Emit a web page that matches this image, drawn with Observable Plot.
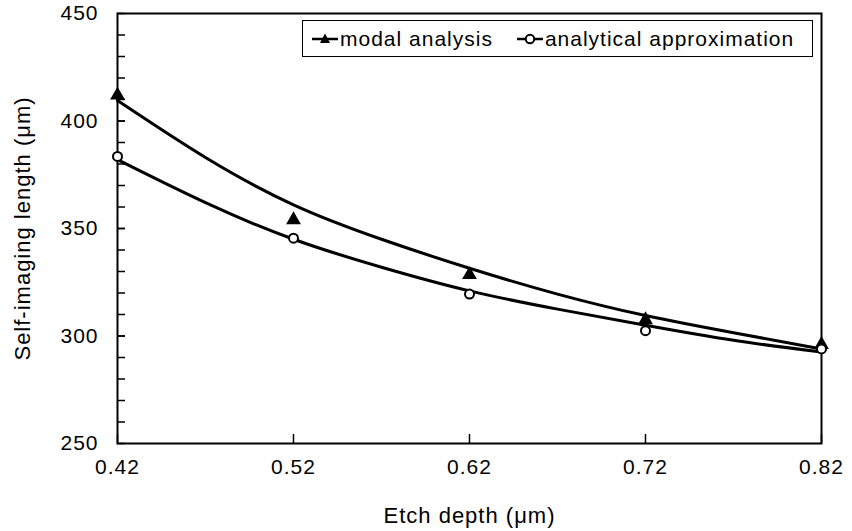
<!DOCTYPE html>
<html>
<head>
<meta charset="utf-8">
<script src="https://cdn.jsdelivr.net/npm/d3@7"></script>
<script src="https://cdn.jsdelivr.net/npm/@observablehq/plot@0.6"></script>
<style>
  html, body { margin: 0; padding: 0; background: #fff; }
  #wrap { position: relative; width: 852px; height: 531px; font-family: "Liberation Sans", Arial, Helvetica, sans-serif; }
  #chart svg { letter-spacing: 1px; }
  #legend {
    position: absolute; left: 302px; top: 20px; height: 37px; width: 511px;
    border: 1.5px solid #000; background: #fff; box-sizing: border-box;
    display: flex; align-items: center; font-size: 21px; letter-spacing: 1px; color: #000; white-space: nowrap;
    padding-left: 9px;
  }
  #legend .item { display: flex; align-items: center; }
  #legend .item + .item { margin-left: 24px; }
  #legend svg { display: block; margin-right: 2px; }
</style>
</head>
<body>
<div id="wrap">
  <div id="chart"></div>
  <div id="legend"></div>
</div>
<script>
// ---- data ----
const etchDepth = [0.42, 0.52, 0.62, 0.72, 0.82];
const modalAnalysis = [412, 354, 328.5, 307.5, 296];
const analyticalApprox = [383.5, 345.5, 319.5, 302.5, 294];

// fitted trend curves
const fitDepth = [0.42, 0.47, 0.52, 0.57, 0.62, 0.67, 0.72, 0.77, 0.82];
const modalFit = [409.5, 383, 361, 345, 331.5, 319.5, 309.5, 301.5, 294];
const analyticalFit = [382, 362, 345, 332, 321, 312.5, 305, 298, 292.5];

const xTicks = [0.42, 0.52, 0.62, 0.72, 0.82];
const yMajorTicks = [250, 300, 350, 400, 450];
const yMinorTicks = [260, 270, 280, 290, 300, 310, 320, 330, 340, 350, 360, 370, 380, 390, 400, 410, 420, 430, 440];

const seriesNames = ["modal analysis", "analytical approximation"];
const xLabel = "Etch depth (\u03bcm)";
const yLabel = "Self-imaging length (\u03bcm)";

// ---- tables ----
const modalPts = etchDepth.map((x, i) => ({x, y: modalAnalysis[i]}));
const analPts = etchDepth.map((x, i) => ({x, y: analyticalApprox[i]}));
const modalCurve = fitDepth.map((x, i) => ({x, y: modalFit[i]}));
const analCurve = fitDepth.map((x, i) => ({x, y: analyticalFit[i]}));

const chart = Plot.plot({
  width: 852,
  height: 531,
  marginLeft: 117,
  marginRight: 31,
  marginTop: 13,
  marginBottom: 88,
  style: {
    fontFamily: '"Liberation Sans", Arial, Helvetica, sans-serif',
    fontSize: "21px",
    color: "#000",
    background: "#fff",
    overflow: "visible"
  },
  x: {domain: [0.42, 0.82]},
  y: {domain: [250, 450]},
  marks: [
    Plot.axisX({ticks: xTicks, tickSize: 0, tickPadding: 16, fontSize: 21, tickFormat: d3.format(".2f"), label: null}),
    Plot.axisX({ticks: xTicks, tickSize: -9, strokeWidth: 1.5, tickFormat: () => "", label: null}),
    Plot.axisY({ticks: yMajorTicks, tickSize: 0, tickPadding: 19, fontSize: 21, tickFormat: d3.format("d"), label: null}),
    Plot.axisY({ticks: yMinorTicks.concat(yMajorTicks), tickSize: -8, strokeWidth: 1.5, tickFormat: () => "", label: null}),
    Plot.frame({stroke: "#000", strokeWidth: 2}),
    Plot.line(modalCurve, {x: "x", y: "y", curve: "natural", stroke: "#000", strokeWidth: 3}),
    Plot.line(analCurve, {x: "x", y: "y", curve: "natural", stroke: "#000", strokeWidth: 3}),
    Plot.dot(modalPts, {x: "x", y: "y", symbol: "triangle", r: 5.5, fill: "#000", stroke: "none"}),
    Plot.dot(analPts, {x: "x", y: "y", symbol: "circle", r: 4.5, fill: "#fff", stroke: "#000", strokeWidth: 2}),
    Plot.text([xLabel], {frameAnchor: "bottom", dy: 72, text: d => d, fontSize: 22, textAnchor: "middle", lineAnchor: "middle"}),
    Plot.text([yLabel], {frameAnchor: "left", dx: -95, rotate: -90, text: d => d, fontSize: 22, textAnchor: "middle", lineAnchor: "middle"})
  ]
});
document.getElementById("chart").appendChild(chart);

// ---- legend ----
const legend = document.getElementById("legend");
const markers = [
  '<svg width="26" height="14"><line x1="0" y1="7" x2="26" y2="7" stroke="#000" stroke-width="2.5"/><path d="M13,1.5 L18,11 L8,11 Z" fill="#000"/></svg>',
  '<svg width="26" height="14"><line x1="0" y1="7" x2="26" y2="7" stroke="#000" stroke-width="2.5"/><circle cx="13" cy="7" r="4.2" fill="#fff" stroke="#000" stroke-width="2"/></svg>'
];
seriesNames.forEach((name, i) => {
  const item = document.createElement("span");
  item.className = "item";
  item.innerHTML = markers[i];
  const t = document.createElement("span");
  t.textContent = name;
  item.appendChild(t);
  legend.appendChild(item);
});
</script>
</body>
</html>
